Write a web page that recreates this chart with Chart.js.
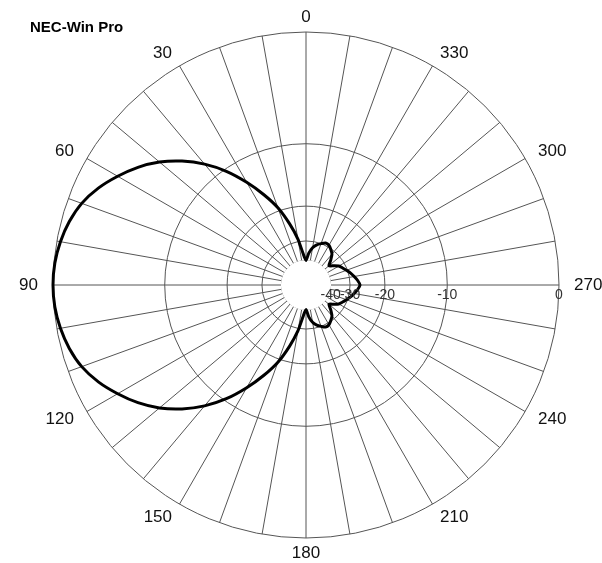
<!DOCTYPE html>
<html>
<head>
<meta charset="utf-8">
<script src="https://cdn.jsdelivr.net/npm/chart.js@4.4.0/dist/chart.umd.min.js"></script>
<style>
  body { margin: 0; background: #fff; }
  #wrap { width: 602px; height: 563px; }
</style>
</head>
<body>
<div id="wrap"><canvas id="polarPlot" width="602" height="563"></canvas></div>
<script>
// azimuth in degrees, 0 at top, counting counter-clockwise (every 5 deg)
const angles = [
  0, 5, 10, 15, 20, 25, 30, 35, 40, 45, 50, 55,
  60, 65, 70, 75, 80, 85, 90, 95, 100, 105, 110, 115,
  120, 125, 130, 135, 140, 145, 150, 155, 160, 165, 170, 175,
  180, 185, 190, 195, 200, 205, 210, 215, 220, 225, 230, 235,
  240, 245, 250, 255, 260, 265, 270, 275, 280, 285, 290, 295,
  300, 305, 310, 315, 320, 325, 330, 335, 340, 345, 350, 355
];
// relative gain in dB (nulls clamped at -40)
const gainDb = [
  -40, -36, -29, -23.8, -19.3, -16, -13, -10.3, -8.1, -6.3, -4.8, -3.6,
  -2.6, -1.7, -1, -0.55, -0.25, -0.06, 0, -0.06, -0.25, -0.55, -1, -1.7,
  -2.6, -3.6, -4.8, -6.3, -8.1, -10.3, -13, -16, -19.3, -23.8, -29, -36,
  -40, -35.5, -32.6, -31, -30, -29.1, -29.3, -30.3, -31.5, -34, -36.6, -34.7,
  -32.6, -31.5, -30.4, -29.2, -28.2, -27.2, -26.5, -27.2, -28.2, -29.2, -30.4, -31.5,
  -32.6, -34.7, -36.6, -34, -31.5, -30.3, -29.3, -29.1, -30, -31, -32.6, -35.5
];
const ringDb = [-40, -30, -20, -10, 0];
const angleTicks = [0, 30, 60, 90, 120, 150, 180, 210, 240, 270, 300, 330];
const titleText = "NEC-Win Pro";

// ARRL log scale: 2 dB per 0.89 of radius
function toR(db) {
  return Math.pow(0.89, -db / 2);
}

// radar runs clockwise, the plot runs counter-clockwise
const n = angles.length;
const order = angles.map((a, k) => (n - k) % n);
const labels = order.map(i => angles[i]);
const values = order.map(i => toR(gainDb[i]));

const FONT = "'Liberation Sans', Arial, sans-serif";

const polarDecor = {
  id: "polarDecor",
  beforeDatasetsDraw(chart) {
    // blank disc inside the -40 dB ring
    const s = chart.scales.r;
    const ctx = chart.ctx;
    ctx.save();
    ctx.fillStyle = "#fff";
    ctx.beginPath();
    ctx.arc(s.xCenter, s.yCenter, s.getDistanceFromCenterForValue(toR(-40)) + 0.5, 0, Math.PI * 2);
    ctx.fill();
    ctx.restore();
  },
  afterDraw(chart) {
    const s = chart.scales.r;
    const ctx = chart.ctx;
    ctx.save();
    ctx.textBaseline = "middle";

    // dB ring labels along the 270 spoke
    ctx.textAlign = "center";
    ctx.font = "14px " + FONT;
    ctx.fillStyle = "#333";
    ringDb.forEach(db => {
      const x = s.xCenter + s.getDistanceFromCenterForValue(toR(db));
      ctx.fillText(String(db), x, s.yCenter + 10);
    });

    // azimuth labels round the outside
    ctx.font = "17px " + FONT;
    ctx.fillStyle = "#111";
    angleTicks.forEach(a => {
      const i = labels.indexOf(a);
      const p = s.getPointPosition(i, s.drawingArea + 15);
      if (a === 0 || a === 180) ctx.textAlign = "center";
      else if (a < 180) ctx.textAlign = "right";
      else ctx.textAlign = "left";
      ctx.fillText(String(a), p.x, p.y);
    });

    ctx.font = "bold 15px " + FONT;
    ctx.fillStyle = "#000";
    ctx.textAlign = "left";
    ctx.fillText(titleText, 30, 28);
    ctx.restore();
  }
};

const chart = new Chart("polarPlot", {
  type: "radar",
  data: {
    labels: labels,
    datasets: [
      {
        label: "Pattern",
        data: values,
        borderColor: "#000",
        borderWidth: 3,
        pointRadius: 0,
        tension: 0.2,
        fill: false,
      },
    ],
  },
  options: {
    responsive: false,
    animation: false,
    layout: { padding: { left: 20, top: 32, right: 10, bottom: 25 } },
    plugins: {
      legend: { display: false },
      tooltip: { enabled: false },
    },
    scales: {
      r: {
        min: 0,
        max: 1,
        afterBuildTicks: (scale) => {
          scale.ticks = [0].concat(ringDb.map(db => toR(db))).map(v => ({ value: v }));
        },
        ticks: { display: false },
        grid: { circular: true, color: "#555", lineWidth: 1 },
        angleLines: {
          color: (ctx) => (labels[ctx.index] % 10 === 0 ? "#555" : "rgba(0,0,0,0)"),
          lineWidth: 1,
        },
        pointLabels: { display: false },
      },
    },
  },
  plugins: [polarDecor],
});
</script>
</body>
</html>
